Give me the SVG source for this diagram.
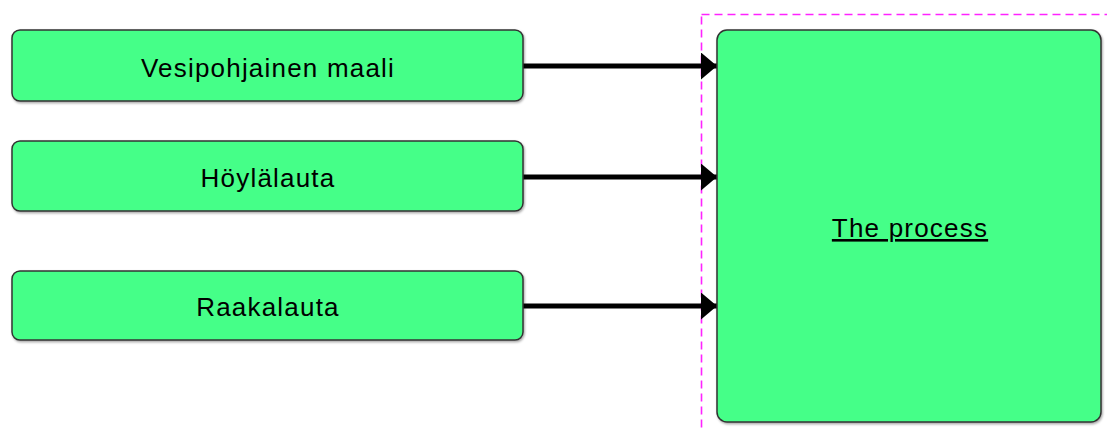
<svg xmlns="http://www.w3.org/2000/svg" width="1107" height="432" viewBox="0 0 1107 432">
  <defs>
    <marker id="arrow" viewBox="0 0 16 27" refX="16" refY="13.5" markerWidth="16" markerHeight="27" markerUnits="userSpaceOnUse" orient="auto">
      <path d="M0,0 L16,13.5 L0,27 Z" fill="#000"/>
    </marker>
    <filter id="shadow" x="-5%" y="-5%" width="110%" height="115%">
      <feDropShadow dx="1" dy="1.5" stdDeviation="1" flood-color="#000" flood-opacity="0.35"/>
    </filter>
  </defs>
  <style>
    .box { fill: #44ff88; stroke: #333; stroke-width: 1.5; filter: url(#shadow); }
    .label { font-family: "Liberation Sans", Arial, sans-serif; font-size: 26px; letter-spacing: 1.2px; fill: #000; text-anchor: middle; }
    .edge { stroke: #000; stroke-width: 5; fill: none; marker-end: url(#arrow); }
    .frame { fill: none; stroke: #ff22ff; stroke-width: 1.6; stroke-dasharray: 8 5; }
  </style>
  <rect width="1107" height="432" fill="#fff"/>

  <!-- dashed container outline -->
  <rect class="frame" x="701.5" y="14.5" width="420" height="430"/>

  <g id="connectors">
    <line class="edge" x1="523" y1="66" x2="717" y2="66"/>
    <line class="edge" x1="523" y1="177" x2="717" y2="177"/>
    <line class="edge" x1="523" y1="306" x2="717" y2="306"/>
  </g>

  <g id="vesipohjainen-maali">
    <rect class="box" x="12" y="30" width="511" height="71" rx="8"/>
    <text class="label" x="268" y="77">Vesipohjainen maali</text>
  </g>
  <g id="hoylalauta">
    <rect class="box" x="12" y="141" width="511" height="70" rx="8"/>
    <text class="label" x="268" y="187">Höylälauta</text>
  </g>
  <g id="raakalauta">
    <rect class="box" x="12" y="271" width="511" height="69" rx="8"/>
    <text class="label" x="268" y="316">Raakalauta</text>
  </g>
  <g id="the-process">
    <rect class="box" x="717" y="30" width="384" height="392" rx="10"/>
    <text class="label" x="910" y="237" text-decoration="underline">The process</text>
  </g>
</svg>
